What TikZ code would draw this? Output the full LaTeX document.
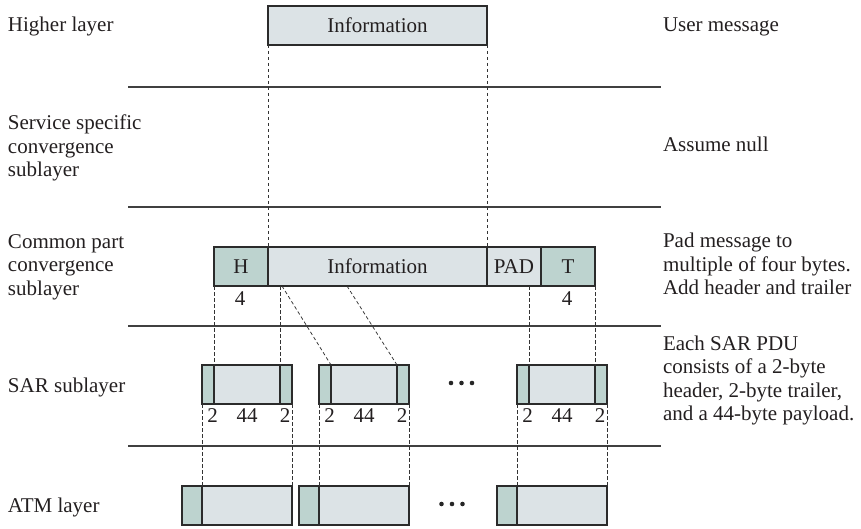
\documentclass[tikz,border=0pt]{standalone}
\usepackage{fontspec}
\setmainfont{Liberation Serif}
\usetikzlibrary{calc}
\definecolor{lightfill}{HTML}{DCE3E6}
\definecolor{darkfill}{HTML}{BDD3CF}
\definecolor{edgec}{HTML}{2B2B2B}
\definecolor{textc}{HTML}{231F20}
\begin{document}
\begin{tikzpicture}[x=1pt,y=-1pt,
  txt/.style={font=\fontsize{21}{23.3}\selectfont, text=textc, inner sep=0pt, outer sep=0pt},
  lab/.style={txt, anchor=base west},
  num/.style={txt, anchor=base},
  cellbox/.style={txt, draw=edgec, line width=1.4pt, anchor=north west, minimum height=39pt},
  lt/.style={cellbox, fill=lightfill},
  dk/.style={cellbox, fill=darkfill},
  layerline/.style={draw=black!75, line width=1.3pt},
  guide/.style={draw=black!80, line width=0.75pt, dash pattern=on 3.5pt off 2.5pt},
  dotc/.style={circle, fill=black!85, inner sep=0pt, outer sep=0pt, minimum size=4.6pt}]
\useasboundingbox (0,0) rectangle (861,529);

% layer separators
\coordinate (l1a) at (128,87);  \coordinate (l1b) at (661,87);
\coordinate (l2a) at (128,207); \coordinate (l2b) at (661,207);
\coordinate (l3a) at (128,326); \coordinate (l3b) at (661,326);
\coordinate (l4a) at (128,446); \coordinate (l4b) at (661,446);
\foreach \i in {1,2,3,4} \draw[layerline] (l\i a) -- (l\i b);

% left labels
\node[lab] (hl)  at (8,32)    {Higher layer};
\node[lab] (ss1) at (8,130)   {Service specific};
\node[lab] (ss2) at (8,153.5) {convergence};
\node[lab] (ss3) at (8,177)   {sublayer};
\node[lab] (cp1) at (8,248)   {Common part};
\node[lab] (cp2) at (8,271.5) {convergence};
\node[lab] (cp3) at (8,295)   {sublayer};
\node[lab] (sar) at (8,392)   {SAR sublayer};
\node[lab] (atm) at (8,512)   {ATM layer};

% right labels
\node[lab] (um)  at (663,32)    {User message};
\node[lab] (an)  at (663,152)   {Assume null};
\node[lab] (pd1) at (663,247.5) {Pad message to};
\node[lab] (pd2) at (663,271)   {multiple of four bytes.};
\node[lab] (pd3) at (663,294.5) {Add header and trailer};
\node[lab] (es1) at (663,350)   {Each SAR PDU};
\node[lab] (es2) at (663,373.5) {consists of a 2-byte};
\node[lab] (es3) at (663,397)   {header, 2-byte trailer,};
\node[lab] (es4) at (663,420.5) {and a 44-byte payload.};

% top message box
\node[lt, minimum width=219pt] (top) at (268,6) {Information};
% CPCS PDU
\node[dk, minimum width=54pt]  (ch) at (214,247) {H};
\node[lt, minimum width=219pt] (ci) at (268,247) {Information};
\node[lt, minimum width=54pt]  (cp) at (487,247) {PAD};
\node[dk, minimum width=54pt]  (ct) at (541,247) {T};

% SAR PDUs
\foreach \n/\x in {1/202,2/319,3/517}{
  \node[dk, minimum width=12pt] (s\n h) at (\x,365) {};
  \node[lt, minimum width=66pt] (s\n p) at (\x+12,365) {};
  \node[dk, minimum width=12pt] (s\n t) at (\x+78,365) {};
}
% ATM cells
\foreach \n/\x in {1/182,2/299,3/497}{
  \node[dk, minimum width=20pt] (a\n h) at (\x,486) {};
  \node[lt, minimum width=90pt] (a\n p) at (\x+20,486) {};
}

% dashed guides
\draw[guide] (top.south west) -- (ci.north west);
\draw[guide] (top.south east) -- (ci.north east);

\coordinate (c1) at (280,286);
\coordinate (c2) at (282,286);
\coordinate (c3) at (347,286);
\coordinate (c4) at (529,286);
\draw[guide] (ch.south west) -- (s1h.north east);
\draw[guide] (c1) -- (s1t.north west);
\draw[guide] (c2) -- (s2h.north east);
\draw[guide] (c3) -- (s2t.north west);
\draw[guide] (c4) -- (s3h.north east);
\draw[guide] (ct.south east) -- (s3t.north west);

\foreach \n in {1,2,3}{
  \draw[guide] (s\n h.south west) -- (a\n p.north west);
  \draw[guide] (s\n t.south east) -- (a\n p.north east);
}

% byte counts
\node[num] (n4a) at (240,305) {4};
\node[num] (n4b) at (567,305) {4};
\foreach \n/\x in {1/202,2/319,3/517}{
  \node[num] (b\n a) at (\x+10.5,422) {2};
  \node[num] (b\n b) at (\x+45,422) {44};
  \node[num] (b\n c) at (\x+83,422) {2};
}

% ellipses
\node[dotc] (d1) at (451,383) {};
\node[dotc] (d2) at (461.5,383) {};
\node[dotc] (d3) at (472,383) {};
\node[dotc] (e1) at (441.5,504) {};
\node[dotc] (e2) at (452,504) {};
\node[dotc] (e3) at (462.5,504) {};
\end{tikzpicture}
\end{document}
